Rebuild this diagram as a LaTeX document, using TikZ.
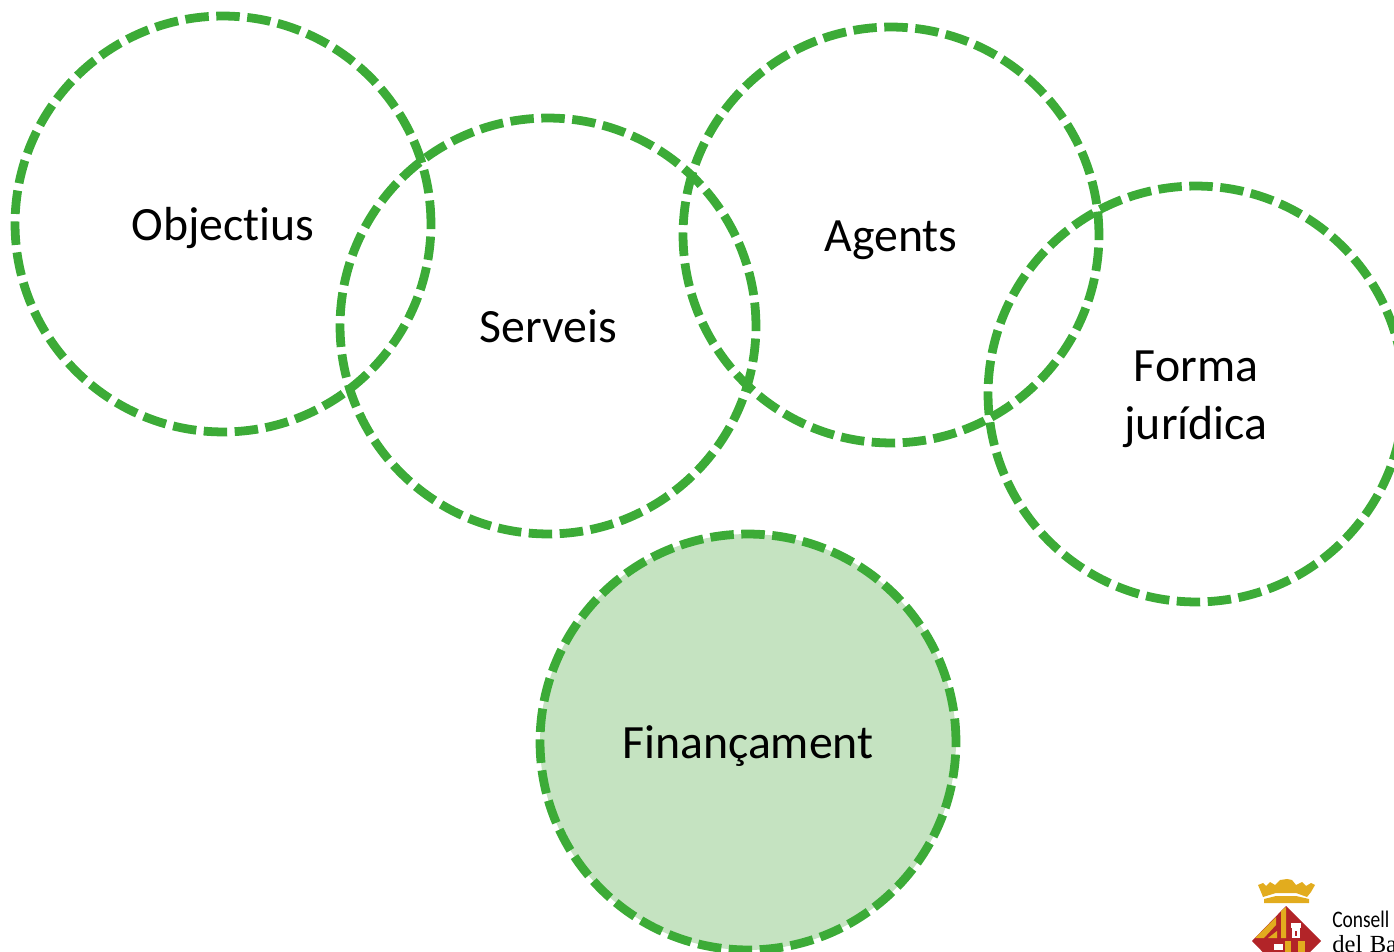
\documentclass[tikz,border=0pt]{standalone}
\usepackage{fontspec}
\setmainfont{Carlito}[Ligatures=NoCommon]
\newfontfamily\logofont{Liberation Serif}
\definecolor{dashgreen}{RGB}{60,171,55}
\definecolor{softgreen}{RGB}{197,227,193}
\definecolor{shieldred}{RGB}{178,36,40}
\definecolor{crowngold}{RGB}{226,172,30}
\tikzset{
	theme/.style={circle,draw=dashgreen,line width=5pt,dash pattern=on 0.47cm off 0.15cm,minimum size=8.32cm,inner sep=0pt,outer sep=0pt,align=center,text height=0.68cm,text depth=0cm,font=\fontsize{27.2pt}{33pt}\selectfont},
}
\begin{document}
\begin{tikzpicture}[x=0.02cm,y=-0.02cm]
	\clip (0,0) rectangle (1394,952);
	\node[theme] (objectius) at (223,224) {Objectius};
	\node[theme] (serveis) at (548,326) {Serveis};
	\node[theme] (agents) at (891,235) {Agents};
	\node[theme,text height=1.82cm] (forma) at (1196,394) {Forma\\jurídica};
	\node[theme,fill=softgreen] (financament) at (748,742) {Finançament};
	% logo
	\fill[crowngold] (1258,885)--(1263,883)--(1266,886)--(1270,882)--(1275,885)--(1280,880)--(1287,879)--(1292,880)--(1296,885)--(1302,882)--(1306,886)--(1311,883)--(1315,885)--(1311,892)--(1307,897)--(1296,893)--(1276,893)--(1263,897)--(1261,892)--cycle;
	\fill[crowngold] (1264,899)--(1276,896)--(1296,896)--(1309,899)--(1309,903)--(1264,903)--cycle;
	\fill[shieldred] (1286,906)--(1321,941)--(1286,976)--(1252,941)--cycle;
	\fill[crowngold] (1255,938)--(1276,917)--(1276,925)--(1264,938)--cycle;
	\fill[crowngold] (1268,938)--(1277,931)--(1277,938)--cycle;
	\fill[crowngold] (1281,911)--(1286,907)--(1286,938)--(1281,938)--cycle;
	\fill[crowngold] (1285,941) rectangle (1291,952);
	\fill[crowngold] (1298,941) rectangle (1305,952);
	\fill[white] (1292,928) rectangle (1300,938);
	\fill[white] (1291,923) rectangle (1301,928);
	\fill[shieldred] (1295,931) rectangle (1297,936);
	\fill[white] (1274,944) rectangle (1283,950);
	\node[anchor=base west,inner sep=0pt,xscale=0.82,font=\fontsize{13.5pt}{13.5pt}\selectfont] (consell) at (1332,928) {Consell};
	\node[anchor=base west,inner sep=0pt,font=\logofont\fontsize{14pt}{14pt}\selectfont] (bal) at (1332,952) {del\hspace{0.3em}Ba};
\end{tikzpicture}
\end{document}
